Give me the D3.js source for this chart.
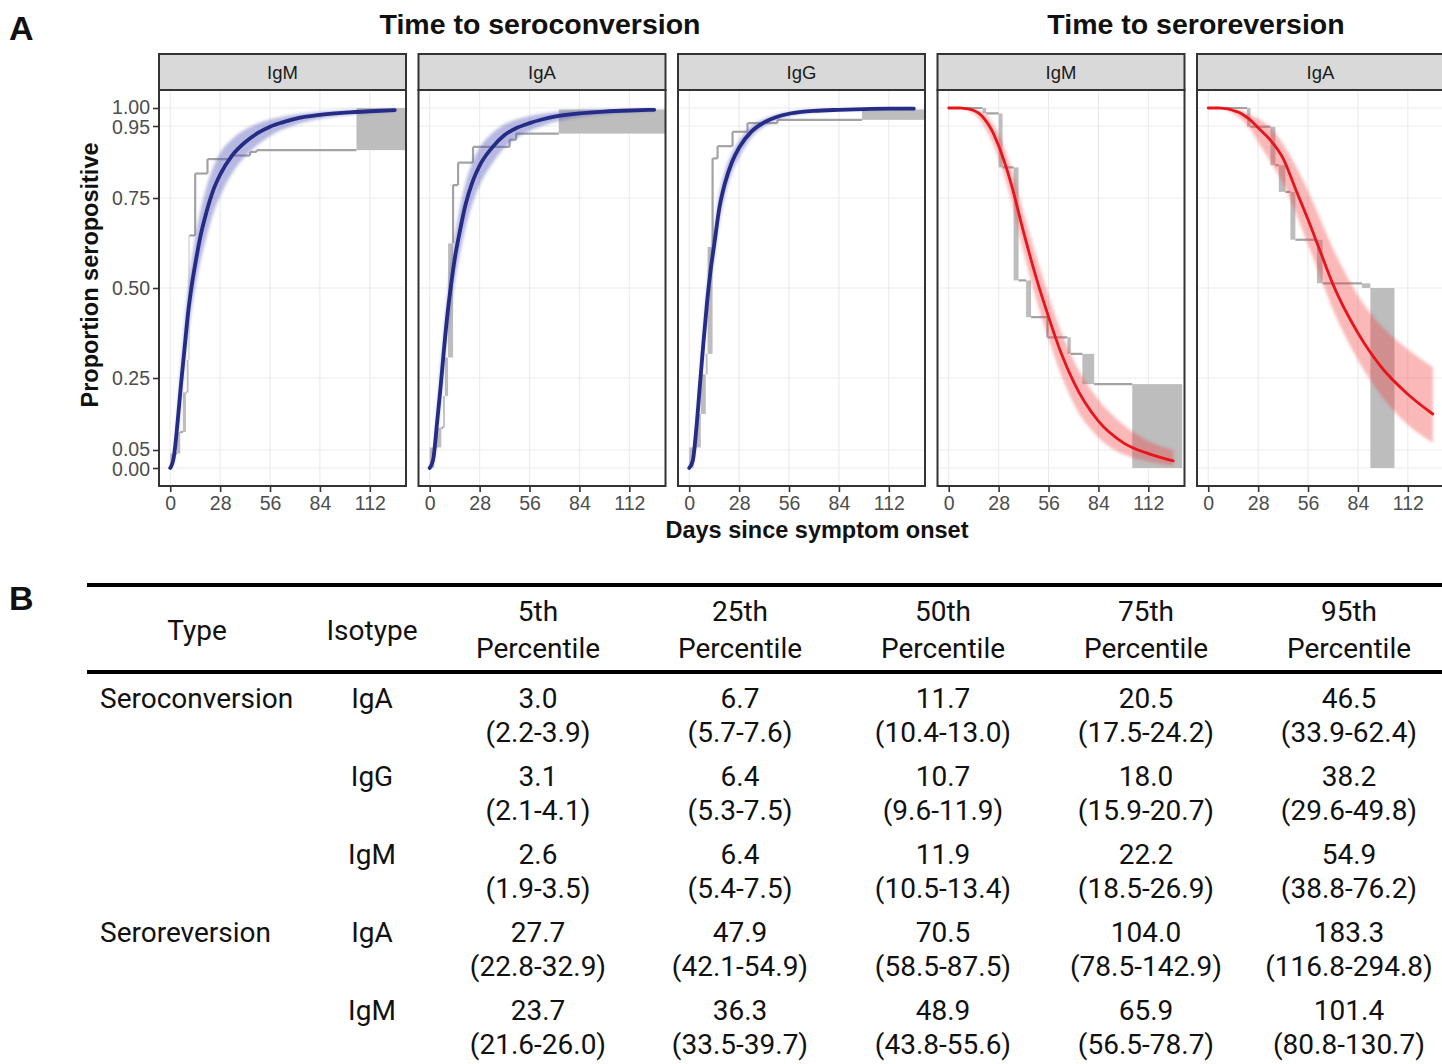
<!DOCTYPE html>
<html><head><meta charset="utf-8">
<script src="https://cdn.jsdelivr.net/npm/d3@7"></script>
<style>
body{margin:0;background:#fff;}
svg{display:block;}
</style>
</head><body>
<svg id="c" width="1442" height="1064"></svg>
<script>
// ---------- DATA ----------
const groupTitles = ["Time to seroconversion", "Time to seroreversion"];
const facetLabels = ["IgM", "IgA", "IgG", "IgM", "IgA"];
const xTicks = [0, 28, 56, 84, 112];
const yTicks = [0, 0.05, 0.25, 0.5, 0.75, 0.95, 1];
const xTitle = "Days since symptom onset";
const yTitle = "Proportion seropositive";

// days at which fitted curves were read
const curveDays = [0,2,4,6,8,10,12,14,17,20,24,28,35,42,49,56,63,70,84,98,112,126];

// seroconversion IgM
const medIgMConv = [0,0.03,0.12,0.23,0.33,0.43,0.505,0.565,0.645,0.705,0.77,0.815,0.87,0.905,0.93,0.948,0.96,0.97,0.981,0.987,0.991,0.994];
const loIgMConv  = [0,0.018,0.085,0.18,0.28,0.37,0.44,0.50,0.575,0.635,0.705,0.755,0.82,0.865,0.897,0.922,0.94,0.953,0.97,0.98,0.986,0.99];
const hiIgMConv  = [0,0.05,0.16,0.29,0.40,0.50,0.575,0.64,0.715,0.775,0.835,0.875,0.915,0.94,0.957,0.968,0.976,0.982,0.989,0.993,0.995,0.997];
// seroconversion IgA
const medIgAConv = [0,0.025,0.12,0.22,0.33,0.43,0.51,0.58,0.66,0.73,0.795,0.84,0.89,0.925,0.945,0.958,0.968,0.976,0.985,0.99,0.993,0.995];
const loIgAConv  = [0,0.014,0.085,0.175,0.275,0.37,0.45,0.515,0.595,0.665,0.735,0.785,0.845,0.89,0.918,0.936,0.95,0.961,0.975,0.983,0.988,0.991];
const hiIgAConv  = [0,0.042,0.155,0.275,0.385,0.485,0.57,0.64,0.725,0.79,0.85,0.89,0.93,0.955,0.969,0.978,0.984,0.988,0.993,0.995,0.996,0.997];
// seroconversion IgG
const medIgGConv = [0,0.02,0.11,0.23,0.35,0.46,0.55,0.62,0.725,0.79,0.85,0.89,0.935,0.96,0.975,0.984,0.989,0.992,0.995,0.997,0.998,0.998];
const loIgGConv  = [0,0.012,0.085,0.20,0.31,0.42,0.51,0.58,0.685,0.755,0.82,0.862,0.918,0.948,0.966,0.977,0.984,0.988,0.993,0.995,0.996,0.997];
const hiIgGConv  = [0,0.03,0.14,0.265,0.39,0.50,0.59,0.66,0.765,0.825,0.875,0.91,0.95,0.97,0.982,0.989,0.993,0.995,0.997,0.998,0.999,0.999];
// seroreversion IgM
const medIgMRev = [1,1,1,1,0.999,0.998,0.996,0.993,0.985,0.97,0.94,0.895,0.79,0.655,0.53,0.42,0.32,0.24,0.13,0.07,0.04,0.02];
const loIgMRev  = [1,1,1,1,0.998,0.995,0.99,0.985,0.97,0.948,0.91,0.86,0.745,0.60,0.47,0.36,0.26,0.18,0.085,0.038,0.018,0.007];
const hiIgMRev  = [1,1,1,1,1,0.999,0.998,0.996,0.992,0.985,0.962,0.928,0.835,0.71,0.59,0.48,0.38,0.30,0.19,0.12,0.075,0.05];
// seroreversion IgA
const medIgARev = [1,1,1,1,0.999,0.998,0.996,0.993,0.988,0.98,0.965,0.945,0.91,0.86,0.775,0.69,0.60,0.51,0.375,0.275,0.205,0.15];
const loIgARev  = [1,1,1,1,0.998,0.995,0.99,0.985,0.975,0.962,0.938,0.905,0.85,0.79,0.71,0.62,0.53,0.44,0.30,0.195,0.12,0.07];
const hiIgARev  = [1,1,1,1,1,0.999,0.998,0.997,0.995,0.99,0.98,0.97,0.945,0.9,0.84,0.77,0.69,0.61,0.48,0.39,0.33,0.28];

// nonparametric (Turnbull) estimate: [dayStart, dayEnd, valueStart, valueEnd]
const npIgMConv = [[0,1.7,0,0.04],[3.7,5.6,0.04,0.10],[7.1,8.8,0.10,0.21],[9.3,10.3,0.21,0.30],[10.3,10.8,0.30,0.646],[14.0,14.0,0.646,0.818],[20.9,20.9,0.818,0.858],[33.6,33.6,0.858,0.868],[44.8,44.8,0.868,0.878],[48.5,48.5,0.878,0.883],[104.5,140,0.883,1.0]];
const npIgAConv = [[0,2.5,0,0.057],[4,6.5,0.057,0.112],[7.5,8.5,0.112,0.20],[8.5,10.3,0.20,0.307],[10.3,13.1,0.307,0.624],[13.1,13.1,0.624,0.786],[15.9,15.9,0.786,0.848],[24.3,24.3,0.848,0.892],[44.8,44.8,0.892,0.912],[48.5,48.5,0.912,0.929],[72.4,140,0.929,0.996]];
const npIgGConv = [[0,2.5,0,0.057],[4,6.5,0.057,0.15],[6.5,9.3,0.15,0.26],[9.3,10.3,0.26,0.317],[10.3,13.1,0.317,0.614],[13.1,13.1,0.614,0.86],[15.9,15.9,0.86,0.894],[24.3,24.3,0.894,0.934],[32.7,32.7,0.934,0.958],[49.5,49.5,0.958,0.967],[97,140,0.967,0.996]];
const npIgMRev  = [[19,21,1.0,0.985],[28,30.2,0.985,0.835],[36.4,39.2,0.835,0.521],[43.4,46.2,0.521,0.419],[55.4,55.4,0.419,0.363],[66.6,68.5,0.363,0.317],[75,81.6,0.317,0.233],[103,131,0.233,0.0]];
const npIgARev  = [[21.8,23.7,1.0,0.948],[34.9,37.7,0.948,0.841],[39.6,43.3,0.841,0.767],[46.1,48.9,0.767,0.634],[61,64.2,0.634,0.513],[86.2,91,0.513,0.50],[91,104.5,0.50,0.0]];

// table
const tableHead1 = ["", "", "5th", "25th", "50th", "75th", "95th"];
const tableHead2 = ["Type", "Isotype", "Percentile", "Percentile", "Percentile", "Percentile", "Percentile"];
const rowTypes = ["Seroconversion", "", "", "Seroreversion", ""];
const rowIsotypes = ["IgA", "IgG", "IgM", "IgA", "IgM"];
const pctEstimate = [[3.0,6.7,11.7,20.5,46.5],[3.1,6.4,10.7,18.0,38.2],[2.6,6.4,11.9,22.2,54.9],[27.7,47.9,70.5,104.0,183.3],[23.7,36.3,48.9,65.9,101.4]];
const pctLower = [[2.2,5.7,10.4,17.5,33.9],[2.1,5.3,9.6,15.9,29.6],[1.9,5.4,10.5,18.5,38.8],[22.8,42.1,58.5,78.5,116.8],[21.6,33.5,43.8,56.5,80.8]];
const pctUpper = [[3.9,7.6,13.0,24.2,62.4],[4.1,7.5,11.9,20.7,49.8],[3.5,7.5,13.4,26.9,76.2],[32.9,54.9,87.5,142.9,294.8],[26.0,39.7,55.6,78.7,130.7]];

// ---------- DRAW ----------
const svg = d3.select("#c");
const SANS = "'Liberation Sans', Arial, Helvetica, sans-serif";
const TABF = "Roboto, 'Noto Sans', sans-serif";

const panels = [
  {label: facetLabels[0], med: medIgMConv, lo: loIgMConv, hi: hiIgMConv, np: npIgMConv, kind: "conv"},
  {label: facetLabels[1], med: medIgAConv, lo: loIgAConv, hi: hiIgAConv, np: npIgAConv, kind: "conv"},
  {label: facetLabels[2], med: medIgGConv, lo: loIgGConv, hi: hiIgGConv, np: npIgGConv, kind: "conv"},
  {label: facetLabels[3], med: medIgMRev, lo: loIgMRev, hi: hiIgMRev, np: npIgMRev, kind: "rev"},
  {label: facetLabels[4], med: medIgARev, lo: loIgARev, hi: hiIgARev, np: npIgARev, kind: "rev"}
];

const pW = 247, pH = 396, pTop = 90, stripH = 36, pStep = 259.5, pLeft0 = 159;
const x = d3.scaleLinear().domain([-6.3, 132.3]).range([0, pW]);
const y = d3.scaleLinear().domain([-0.05, 1.05]).range([pH, 0]);

const defs = svg.append("defs");
defs.append("filter").attr("id","soft").attr("x","-10%").attr("y","-10%").attr("width","120%").attr("height","120%")
  .append("feGaussianBlur").attr("stdDeviation", 1.6);

const colors = {conv: {line: "#252c86", band: "#5257b8"}, rev: {line: "#e8141c", band: "#f23a3a"}};

panels.forEach((p, i) => {
  const left = pLeft0 + i * pStep;
  const g = svg.append("g").attr("transform", `translate(${left},${pTop})`);
  defs.append("clipPath").attr("id", "clip" + i).append("rect").attr("width", pW).attr("height", pH);

  // grid
  g.append("g").selectAll("line").data(xTicks).join("line")
    .attr("x1", d => x(d)).attr("x2", d => x(d)).attr("y1", 0).attr("y2", pH)
    .attr("stroke", "#ebebeb").attr("stroke-width", 1.1);
  g.append("g").selectAll("line").data(yTicks).join("line")
    .attr("y1", d => y(d)).attr("y2", d => y(d)).attr("x1", 0).attr("x2", pW)
    .attr("stroke", "#ebebeb").attr("stroke-width", 1.1);

  const inner = g.append("g").attr("clip-path", `url(#clip${i})`);

  // nonparametric estimate
  const npColor = "#a3a3a3";
  inner.append("g").selectAll("rect").data(p.np.filter(d => d[1] > d[0])).join("rect")
    .attr("x", d => x(d[0])).attr("width", d => x(d[1]) - x(d[0]))
    .attr("y", d => y(Math.max(d[2], d[3]))).attr("height", d => Math.abs(y(d[2]) - y(d[3])))
    .attr("fill", "#bdbdbd");
  const segs = [];
  const first = p.np[0];
  segs.push([[0, first[2]], [first[0], first[2]]]);
  p.np.forEach((d, k) => {
    if (k > 0) { const prev = p.np[k-1]; segs.push([[prev[1], prev[3]], [d[0], d[2]]]); }
    if (d[1] === d[0]) segs.push([[d[0], d[2]], [d[0], d[3]]]);
  });
  inner.append("g").selectAll("line").data(segs).join("line")
    .attr("x1", d => x(d[0][0])).attr("y1", d => y(d[0][1]))
    .attr("x2", d => x(d[1][0])).attr("y2", d => y(d[1][1]))
    .attr("stroke", npColor).attr("stroke-width", 2.2);

  // posterior band
  const pts = curveDays.map((d, k) => ({d, m: p.med[k], lo: p.lo[k], hi: p.hi[k]}));
  const area = d3.area().x(d => x(d.d)).y0(d => y(d.lo)).y1(d => y(d.hi)).curve(d3.curveMonotoneX);
  inner.append("path").datum(pts).attr("d", area)
    .attr("fill", colors[p.kind].band).attr("fill-opacity", p.kind === "conv" ? 0.42 : 0.36).attr("filter", "url(#soft)");
  const line = d3.line().x(d => x(d.d)).y(d => y(d.m)).curve(d3.curveMonotoneX);
  inner.append("path").datum(pts).attr("d", line)
    .attr("fill", "none").attr("stroke", colors[p.kind].line)
    .attr("stroke-width", p.kind === "conv" ? 3.8 : 2.8).attr("stroke-linecap", "round");

  // border
  g.append("rect").attr("width", pW).attr("height", pH).attr("fill", "none")
    .attr("stroke", "#333").attr("stroke-width", 2);
  // strip
  g.append("rect").attr("y", -stripH).attr("width", pW).attr("height", stripH)
    .attr("fill", "#d9d9d9").attr("stroke", "#333").attr("stroke-width", 2);
  g.append("text").attr("x", pW / 2).attr("y", -stripH / 2 + 6.5).attr("text-anchor", "middle")
    .attr("font-family", SANS).attr("font-size", 18.5).attr("fill", "#1a1a1a").text(p.label);

  // x axis
  const xa = g.append("g").attr("transform", `translate(0,${pH})`)
    .call(d3.axisBottom(x).tickValues(xTicks).tickSize(6).tickPadding(4));
  xa.select(".domain").remove();
  xa.selectAll(".tick line").attr("stroke", "#333").attr("stroke-width", 1.6);
  xa.selectAll(".tick text").attr("font-family", SANS).attr("font-size", 19.5).attr("fill", "#4d4d4d");

  if (i === 0) {
    const ya = g.append("g").call(d3.axisLeft(y).tickValues(yTicks).tickFormat(d3.format(".2f")).tickSize(6).tickPadding(3));
    ya.select(".domain").remove();
    ya.selectAll(".tick line").attr("stroke", "#333").attr("stroke-width", 1.6);
    ya.selectAll(".tick text").attr("font-family", SANS).attr("font-size", 19.5).attr("fill", "#4d4d4d")
      .attr("dy", d => d === 1 ? "0.26em" : (d === 0.95 ? "0.38em" : (d === 0.05 ? "0.26em" : (d === 0 ? "0.38em" : "0.32em"))));
  }
});

// group titles
const tTop = 34;
svg.append("text").attr("x", 540).attr("y", tTop)
  .attr("text-anchor", "middle").attr("font-family", SANS).attr("font-weight", "bold")
  .attr("font-size", 28.5).attr("fill", "#111").text(groupTitles[0]);
svg.append("text").attr("x", 1196).attr("y", tTop)
  .attr("text-anchor", "middle").attr("font-family", SANS).attr("font-weight", "bold")
  .attr("font-size", 28.5).attr("fill", "#111").text(groupTitles[1]);

// axis titles
svg.append("text").attr("x", 817).attr("y", 538).attr("text-anchor", "middle")
  .attr("font-family", SANS).attr("font-weight", "bold").attr("font-size", 23.5).attr("fill", "#111").text(xTitle);
svg.append("text").attr("transform", `translate(98,${275}) rotate(-90)`).attr("text-anchor", "middle")
  .attr("font-family", SANS).attr("font-weight", "bold").attr("font-size", 23.5).attr("fill", "#111").text(yTitle);

// panel letters
svg.append("text").attr("x", 9).attr("y", 40).attr("font-family", SANS).attr("font-weight", "bold")
  .attr("font-size", 34).attr("fill", "#111").text("A");
svg.append("text").attr("x", 9).attr("y", 610).attr("font-family", SANS).attr("font-weight", "bold")
  .attr("font-size", 34).attr("fill", "#111").text("B");

// ---------- TABLE ----------
const colX = [197, 372, 538, 740, 943, 1146, 1349];
const tbl = svg.append("g").attr("font-family", TABF).attr("font-size", 28).attr("fill", "#111");
tbl.append("line").attr("x1", 87).attr("x2", 1442).attr("y1", 585).attr("y2", 585).attr("stroke", "#000").attr("stroke-width", 4);
tbl.append("line").attr("x1", 87).attr("x2", 1442).attr("y1", 672).attr("y2", 672).attr("stroke", "#000").attr("stroke-width", 4);
colX.forEach((cx, j) => {
  if (j < 2) {
    tbl.append("text").attr("x", cx).attr("y", 640).attr("text-anchor", "middle").text(tableHead2[j]);
  } else {
    tbl.append("text").attr("x", cx).attr("y", 621).attr("text-anchor", "middle").text(tableHead1[j]);
    tbl.append("text").attr("x", cx).attr("y", 658).attr("text-anchor", "middle").text(tableHead2[j]);
  }
});
const f1 = d3.format(".1f");
rowIsotypes.forEach((iso, r) => {
  const by = 708 + r * 78;
  if (rowTypes[r]) tbl.append("text").attr("x", 100).attr("y", by).text(rowTypes[r]);
  tbl.append("text").attr("x", colX[1]).attr("y", by).attr("text-anchor", "middle").text(iso);
  pctEstimate[r].forEach((v, c) => {
    tbl.append("text").attr("x", colX[c + 2]).attr("y", by).attr("text-anchor", "middle").text(f1(v));
    tbl.append("text").attr("x", colX[c + 2]).attr("y", by + 34).attr("text-anchor", "middle")
      .text(`(${f1(pctLower[r][c])}-${f1(pctUpper[r][c])})`);
  });
});
</script>
</body></html>
